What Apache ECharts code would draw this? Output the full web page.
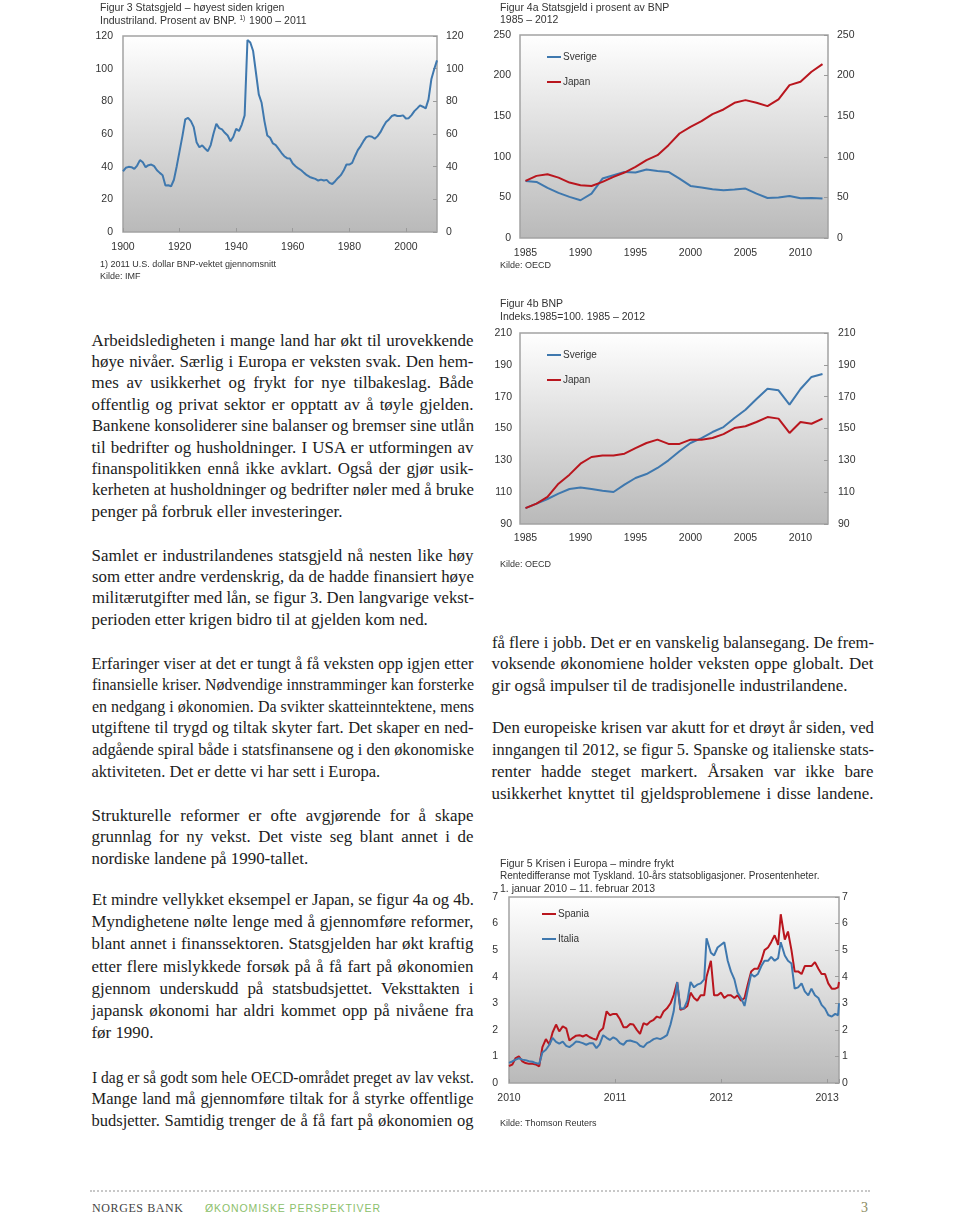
<!DOCTYPE html>
<html><head><meta charset="utf-8">
<script src="https://cdn.jsdelivr.net/npm/echarts@6.0.0/dist/echarts.min.js"></script>
<style>
html,body{margin:0;padding:0;background:#fff;}
#page{position:relative;width:960px;height:1217px;overflow:hidden;background:#fff;}
.chart{position:absolute;}
.blk{position:absolute;font-family:"Liberation Serif","Times New Roman",serif;color:#1c1c1c;}
.ln{white-space:nowrap;}
</style></head><body><div id="page">
<div id="fig3" class="chart" style="left:80px;top:0;width:400px;height:290px"></div>
<div id="fig4a" class="chart" style="left:480px;top:0;width:480px;height:290px"></div>
<div id="fig4b" class="chart" style="left:480px;top:290px;width:480px;height:290px"></div>
<div id="fig5" class="chart" style="left:480px;top:850px;width:480px;height:290px"></div>
<div style="position:absolute;left:90px;top:1190px;width:780px;border-top:2px dotted #c8c8c8"></div>
<div style="position:absolute;left:92px;top:1201px;font:12px 'Liberation Serif',serif;letter-spacing:0.6px;color:#444">NORGES BANK</div>
<div style="position:absolute;left:205px;top:1202px;font:10.5px 'Liberation Sans',sans-serif;letter-spacing:0.9px;color:#8cc06c">ØKONOMISKE PERSPEKTIVER</div>
<div style="position:absolute;left:861px;top:1200px;font:14px 'Liberation Serif',serif;color:#8a8a60">3</div>
</div>
<script>
// ---------- DATA ----------
const fig3Years = [1900,1901,1902,1903,1904,1905,1906,1907,1908,1909,1910,1911,1912,1913,1914,1915,1916,1917,1918,1919,
1920,1921,1922,1923,1924,1925,1926,1927,1928,1929,1930,1931,1932,1933,1934,1935,1936,1937,1938,1939,
1940,1941,1942,1943,1944,1945,1946,1947,1948,1949,1950,1951,1952,1953,1954,1955,1956,1957,1958,1959,
1960,1961,1962,1963,1964,1965,1966,1967,1968,1969,1970,1971,1972,1973,1974,1975,1976,1977,1978,1979,
1980,1981,1982,1983,1984,1985,1986,1987,1988,1989,1990,1991,1992,1993,1994,1995,1996,1997,1998,1999,
2000,2001,2002,2003,2004,2005,2006,2007,2008,2009,2010,2011];
const fig3Debt = [37.2,39.3,39.9,39.7,38.6,40.7,44.0,42.7,39.7,40.9,41.3,40.3,37.8,36.2,34.8,28.4,28.6,28.0,32.0,40.3,
49.5,58.7,68.9,69.9,67.9,64.2,55.0,51.9,53.0,51.1,49.5,53.2,60.3,66.3,63.6,62.8,60.7,59.1,55.6,58.3,
63.2,61.8,65.8,71.4,117.6,116.0,110.8,97.5,84.3,79.1,67.9,59.1,57.7,54.2,53.2,50.9,48.5,46.4,45.2,45.0,
41.9,40.3,38.9,37.8,36.2,34.8,33.7,33.1,32.5,31.5,32.1,31.5,31.9,30.1,29.4,31.1,33.1,34.8,37.6,41.3,
41.3,42.3,46.4,50.1,52.6,55.6,58.1,58.7,58.3,57.1,58.7,61.1,64.4,67.3,68.9,71.0,71.6,71.0,71.0,71.4,
69.5,69.7,71.6,74.0,75.7,77.5,76.7,75.7,81.2,93.5,99.6,105.1];

const fig4Years = [1985,1986,1987,1988,1989,1990,1991,1992,1993,1994,1995,1996,1997,1998,1999,2000,2001,2002,2003,2004,2005,2006,2007,2008,2009,2010,2011,2012];
const debtSverige = [70.3,69,61.7,55.5,50.6,46.5,54.7,73.2,77.3,81.4,80.6,84.3,82.6,81.4,73.2,64.1,62.1,60,58.8,59.6,60.9,54.7,49.3,49.8,51.8,48.9,49.3,48.5];
const debtJapan = [70.3,76.5,78.5,74.4,68.3,65,64.1,69.1,75.2,80.6,87.6,95.8,102,114.3,128.7,136.9,143.9,152.5,158.3,166.5,169.8,166.5,162.4,170.6,188.3,192.4,204.8,214.2];
const gdpSverige = [100,102.8,105.7,109.1,112,113,112,110.9,110.1,114.7,118.9,121.4,125.2,130,135.7,140.9,144,147.8,150.9,156.6,161.8,168.5,175,174,165,174.8,182.4,184.2];
const gdpJapan = [100,102.8,107,115.3,121,127.9,132.1,133.1,133.1,134.2,137.7,140.9,143,140.3,140.3,143,143,144,146.5,150.3,151.4,154.1,157.2,156.2,147.2,154.1,153,156.2];

const fig5Dates = ['2010-01-01','2010-01-12','2010-01-24','2010-02-04','2010-02-16','2010-02-27','2010-03-11','2010-03-23','2010-04-03','2010-04-15',
'2010-04-26','2010-05-08','2010-05-20','2010-05-31','2010-06-12','2010-06-23','2010-07-05','2010-07-17','2010-07-28','2010-08-09',
'2010-08-20','2010-09-01','2010-09-12','2010-09-24','2010-10-06','2010-10-17','2010-10-29','2010-11-09','2010-11-21','2010-12-03',
'2010-12-14','2010-12-26','2011-01-06','2011-01-18','2011-01-30','2011-02-10','2011-02-22','2011-03-05','2011-03-17','2011-03-28',
'2011-04-09','2011-04-21','2011-05-02','2011-05-14','2011-05-25','2011-06-06','2011-06-17','2011-06-29','2011-07-11','2011-07-22',
'2011-08-03','2011-08-14','2011-08-26','2011-09-07','2011-09-18','2011-09-30','2011-10-11','2011-10-23','2011-11-04','2011-11-12',
'2011-11-27','2011-12-08','2011-12-20','2012-01-01','2012-01-12','2012-01-24','2012-02-04','2012-02-16','2012-02-27','2012-03-10',
'2012-03-22','2012-04-02','2012-04-14','2012-04-25','2012-05-07','2012-05-19','2012-05-30','2012-06-11','2012-06-22','2012-07-04',
'2012-07-16','2012-07-25','2012-08-08','2012-08-19','2012-08-31','2012-09-11','2012-09-23','2012-10-05','2012-10-16','2012-10-28',
'2012-11-08','2012-11-20','2012-12-02','2012-12-13','2012-12-25','2013-01-05','2013-01-17','2013-01-29','2013-02-08','2013-02-11'];
const spania = [0.64,0.69,0.94,1.0,0.81,0.75,0.72,0.72,0.7,0.63,
1.35,1.65,1.45,1.9,2.2,1.94,2.13,2.06,1.6,1.7,
1.78,1.8,1.75,1.81,1.72,1.67,1.63,1.94,2.06,2.7,
2.55,2.6,2.6,2.4,2.1,2.1,2.22,2.2,2.0,1.85,
2.25,2.19,2.31,2.38,2.5,2.45,2.69,2.81,3.0,3.31,
3.8,2.75,2.8,2.9,3.4,3.2,3.1,3.3,3.3,4.0,
4.6,3.3,3.3,3.4,3.2,3.3,3.3,3.2,3.3,3.1,
3.2,3.7,4.2,4.3,4.3,4.6,5.0,5.1,5.3,5.56,
5.2,6.35,5.4,5.7,5.0,4.2,4.2,4.1,4.4,4.4,
4.4,4.55,4.3,4.1,4.1,3.75,3.55,3.55,3.6,3.8];
const italia = [0.76,0.81,0.88,0.93,0.88,0.86,0.82,0.8,0.75,0.72,
1.15,1.25,1.44,1.7,1.55,1.48,1.56,1.4,1.35,1.45,
1.56,1.54,1.5,1.44,1.5,1.5,1.31,1.45,1.8,1.7,
1.62,1.72,1.65,1.5,1.44,1.58,1.6,1.56,1.52,1.4,
1.35,1.5,1.56,1.65,1.69,1.65,1.72,1.8,2.2,2.7,
3.8,2.8,2.8,3.1,3.8,3.6,3.7,3.75,3.9,5.45,
4.9,4.8,5.1,5.2,5.3,4.6,4.2,3.9,3.4,3.2,
2.9,3.5,4.1,4.0,4.1,4.4,4.6,4.6,4.75,4.6,
4.7,5.3,4.8,4.6,4.5,3.55,3.6,3.75,3.45,3.3,
3.55,3.3,3.2,2.94,2.8,2.56,2.5,2.6,2.55,3.0];
const fig5End = '2013-02-11';

// ---------- BODY TEXT ----------
const leftBlocks = [
 {base:346, lh:21.4, fs:16.9, lines:[
 "Arbeidsledigheten i mange land har økt til urovekkende",
 "høye nivåer. Særlig i Europa er veksten svak. Den hem-",
 "mes av usikkerhet og frykt for nye tilbakeslag. Både",
 "offentlig og privat sektor er opptatt av å tøyle gjelden.",
 "Bankene konsoliderer sine balanser og bremser sine utlån",
 "til bedrifter og husholdninger. I USA er utformingen av",
 "finanspolitikken ennå ikke avklart. Også der gjør usik-",
 "kerheten at husholdninger og bedrifter nøler med å bruke",
 "penger på forbruk eller investeringer."]},
 {base:561, lh:21.3, fs:16.9, lines:[
 "Samlet er industrilandenes statsgjeld nå nesten like høy",
 "som etter andre verdenskrig, da de hadde finansiert høye",
 "militærutgifter med lån, se figur 3. Den langvarige vekst-",
 "perioden etter krigen bidro til at gjelden kom ned."]},
 {base:669, lh:21.6, fs:16.5, lines:[
 "Erfaringer viser at det er tungt å få veksten opp igjen etter",
 "finansielle kriser. Nødvendige innstramminger kan forsterke",
 "en nedgang i økonomien. Da svikter skatteinntektene, mens",
 "utgiftene til trygd og tiltak skyter fart. Det skaper en ned-",
 "adgående spiral både i statsfinansene og i den økonomiske",
 "aktiviteten. Det er dette vi har sett i Europa."]},
 {base:821, lh:21.5, fs:16.9, lines:[
 "Strukturelle reformer er ofte avgjørende for å skape",
 "grunnlag for ny vekst. Det viste seg blant annet i de",
 "nordiske landene på 1990-tallet."]},
 {base:906, lh:22.1, fs:16.9, lines:[
 "Et mindre vellykket eksempel er Japan, se figur 4a og 4b.",
 "Myndighetene nølte lenge med å gjennomføre reformer,",
 "blant annet i finanssektoren. Statsgjelden har økt kraftig",
 "etter flere mislykkede forsøk på å få fart på økonomien",
 "gjennom underskudd på statsbudsjettet. Veksttakten i",
 "japansk økonomi har aldri kommet opp på nivåene fra",
 "før 1990."]},
 {base:1083, lh:21.4, fs:16.5, justifyAll:true, lines:[
 "I dag er så godt som hele OECD-området preget av lav vekst.",
 "Mange land må gjennomføre tiltak for å styrke offentlige",
 "budsjetter. Samtidig trenger de å få fart på økonomien og"]}
];
const rightBlocks = [
 {base:648, lh:21.5, fs:16.9, lines:[
 "få flere i jobb. Det er en vanskelig balansegang. De frem-",
 "voksende økonomiene holder veksten oppe globalt. Det",
 "gir også impulser til de tradisjonelle industrilandene."]},
 {base:734, lh:22, fs:16.9, justifyAll:true, lines:[
 "Den europeiske krisen var akutt for et drøyt år siden, ved",
 "inngangen til 2012, se figur 5. Spanske og italienske stats-",
 "renter hadde steget markert. Årsaken var ikke bare",
 "usikkerhet knyttet til gjeldsproblemene i disse landene."]}
];

function renderBlocks(blocks, left, width){
  const page = document.getElementById('page');
  blocks.forEach(b => {
    const fs = b.fs;
    const el = document.createElement('div');
    el.className = 'blk';
    const off = (b.lh - 1.107*fs)/2 + 0.891*fs;
    el.style.left = left + 'px';
    el.style.top = (b.base - off) + 'px';
    el.style.width = width + 'px';
    el.style.fontSize = fs + 'px';
    el.style.lineHeight = b.lh + 'px';
    page.appendChild(el);
    const W = width;
    b.lines.forEach((t, i) => {
      const d = document.createElement('div');
      d.className = 'ln';
      d.style.width = W + 'px';
      d.style.height = b.lh + 'px';
      const s = document.createElement('span');
      s.textContent = t;
      d.appendChild(s);
      el.appendChild(d);
      const w = s.getBoundingClientRect().width;
      const isLast = i === b.lines.length - 1 && !b.justifyAll;
      if (w > W) {
        s.style.display = 'inline-block';
        s.style.transformOrigin = '0 0';
        s.style.transform = 'scaleX(' + (W / w) + ')';
      } else if (!isLast) {
        d.style.whiteSpace = 'normal';
        d.style.textAlign = 'justify';
        d.style.textAlignLast = 'justify';
      }
    });
  });
}
renderBlocks(leftBlocks, 91.5, 382);
renderBlocks(rightBlocks, 491.5, 382);

// ---------- CHARTS ----------
const FONT = '"Liberation Sans", Arial, Helvetica, sans-serif';
const TXT = '#333';
const BLUE = '#3f78ae', RED = '#b9161e';
function grad(){ return new echarts.graphic.LinearGradient(0,0,0,1,[{offset:0,color:'#ffffff'},{offset:1,color:'#b9b9b9'}]); }
function tItem(text, left, top, size){ return {text:text, left:left, top:top, textStyle:{fontSize:size, fontWeight:'normal', color:TXT, fontFamily:FONT}}; }
function gridCfg(l,t,w,h){ return {left:l, top:t, width:w, height:h, show:true, backgroundColor:grad(), borderColor:'#a3a3a3', borderWidth:1.5, containLabel:false}; }
const lblStyle = {fontSize:10.5, color:TXT, fontFamily:FONT};
function yAxes(min, max, interval, lm, rm){
  const common = {type:'value', min:min, max:max, interval:interval, splitLine:{show:false}, axisLine:{show:false}};
  return [
    Object.assign({}, common, {position:'left', axisTick:{show:false}, axisLabel:Object.assign({margin:lm}, lblStyle)}),
    Object.assign({}, common, {position:'right', axisTick:{show:true, inside:true, length:4, lineStyle:{color:'#9a9a9a'}}, axisLabel:Object.assign({margin:rm}, lblStyle)})
  ];
}
function legendCfg(left, top, names){
  return {left:left, top:top, orient:'vertical', icon:'rect', itemWidth:14, itemHeight:2, itemGap:15,
    selectedMode:false, textStyle:{fontSize:10, color:TXT, fontFamily:FONT, padding:[0,0,0,-3]}, data:names};
}
function lineSeries(name, data, color, yIndex){
  return {name:name, type:'line', data:data, yAxisIndex:yIndex||0, showSymbol:false, symbol:'none', color:color,
    lineStyle:{width:2, color:color}, animation:false};
}

// Figure 3
const c3 = echarts.init(document.getElementById('fig3'));
c3.setOption({
  animation:false,
  title:[
    tItem('Figur 3 Statsgjeld – høyest siden krigen', 15, -2, 10.5),
    {text:'{a|Industriland. Prosent av BNP.}{s|1)}{a| 1900 – 2011}', left:15, top:10,
     textStyle:{fontFamily:FONT, color:TXT, fontWeight:'normal', rich:{
       a:{fontSize:10.5, fontFamily:FONT, color:TXT, fontWeight:'normal'},
       s:{fontSize:6.5, fontFamily:FONT, color:TXT, fontWeight:'normal', padding:[0,1,6,3]}}}},
    tItem('1) 2011 U.S. dollar BNP-vektet gjennomsnitt', 15, 255.5, 9),
    tItem('Kilde: IMF', 15, 267, 9)
  ],
  grid: gridCfg(43, 36, 314, 196),
  xAxis:{type:'category', data:fig3Years, boundaryGap:false, axisLine:{show:false}, splitLine:{show:false},
    axisTick:{show:true, inside:true, length:4, interval:19, lineStyle:{color:'#9a9a9a'}},
    axisLabel:Object.assign({interval:19, margin:10}, lblStyle)},
  yAxis: yAxes(0, 120, 20, 10, 9),
  series:[lineSeries('Statsgjeld', fig3Debt, BLUE)]
});

// Figure 4a
const c4a = echarts.init(document.getElementById('fig4a'));
c4a.setOption({
  animation:false,
  title:[
    tItem('Figur 4a Statsgjeld i prosent av BNP', 15, -2, 10.5),
    tItem('1985 – 2012', 15, 9.5, 10.5),
    tItem('Kilde: OECD', 15, 256, 9)
  ],
  legend: legendCfg(62, 47, ['Sverige','Japan']),
  grid: gridCfg(40, 35, 308, 203),
  xAxis:{type:'category', data:fig4Years, boundaryGap:true, axisLine:{show:false}, splitLine:{show:false},
    axisTick:{show:false}, axisLabel:Object.assign({interval:4, margin:10}, lblStyle)},
  yAxis: yAxes(0, 250, 50, 9, 9),
  series:[lineSeries('Sverige', debtSverige, BLUE), lineSeries('Japan', debtJapan, RED)]
});

// Figure 4b
const c4b = echarts.init(document.getElementById('fig4b'));
c4b.setOption({
  animation:false,
  title:[
    tItem('Figur 4b BNP', 15, 4, 10.5),
    tItem('Indeks.1985=100. 1985 – 2012', 15, 16.5, 10.5),
    tItem('Kilde: OECD', 15, 265.5, 9)
  ],
  legend: legendCfg(62, 55, ['Sverige','Japan']),
  grid: gridCfg(40, 43, 308, 191),
  xAxis:{type:'category', data:fig4Years, boundaryGap:true, axisLine:{show:false}, splitLine:{show:false},
    axisTick:{show:false}, axisLabel:Object.assign({interval:4, margin:9}, lblStyle)},
  yAxis: yAxes(90, 210, 20, 8, 10),
  series:[lineSeries('Sverige', gdpSverige, BLUE), lineSeries('Japan', gdpJapan, RED)]
});

// Figure 5
function decYear(s){
  const d = new Date(s + 'T00:00:00Z');
  const y = d.getUTCFullYear();
  const a = Date.UTC(y,0,1), b = Date.UTC(y+1,0,1);
  return y + (d.getTime() - a) / (b - a);
}
const x5 = fig5Dates.map(decYear);
const c5 = echarts.init(document.getElementById('fig5'));
c5.setOption({
  animation:false,
  title:[
    tItem('Figur 5 Krisen i Europa – mindre frykt', 15, 3.5, 10.5),
    tItem('Rentedifferanse mot Tyskland. 10-års statsobligasjoner. Prosentenheter.', 15, 16, 10),
    tItem('1. januar 2010 – 11. februar 2013', 15, 28.5, 10.5),
    tItem('Kilde: Thomson Reuters', 15, 264.5, 9)
  ],
  legend: legendCfg(57, 54, ['Spania','Italia']),
  grid: gridCfg(29, 47, 330, 186),
  xAxis:{type:'value', min:2010, max:decYear(fig5End), interval:1, axisLine:{show:false}, splitLine:{show:false},
    axisTick:{show:true, inside:true, length:4, lineStyle:{color:'#9a9a9a'}},
    axisLabel:Object.assign({margin:10, formatter:function(v){ return Math.abs(v - Math.round(v)) < 1e-6 ? String(Math.round(v)) : ''; }}, lblStyle)},
  yAxis: yAxes(0, 7, 1, 11, 3),
  series:[
    lineSeries('Spania', x5.map((x,i)=>[x, spania[i]]), RED),
    lineSeries('Italia', x5.map((x,i)=>[x, italia[i]]), BLUE)
  ]
});
</script>
</body></html>
